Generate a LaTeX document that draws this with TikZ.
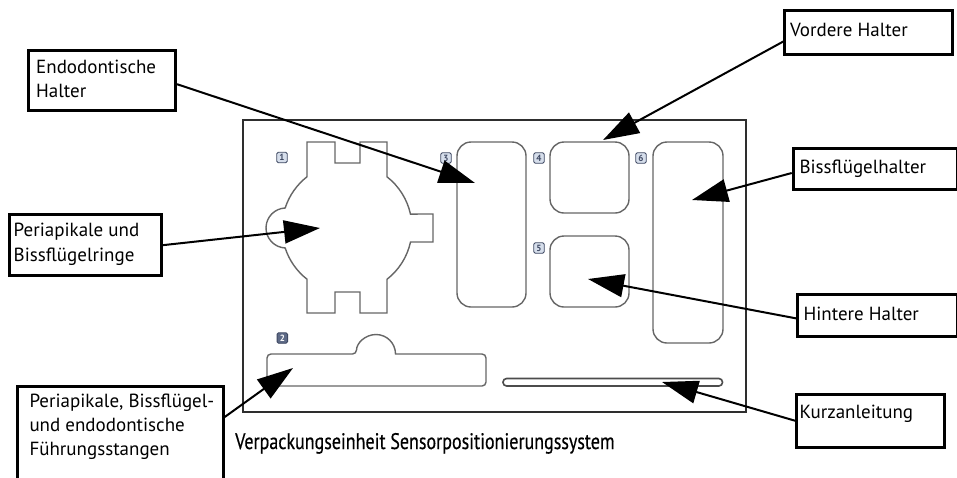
\documentclass[tikz,border=0pt]{standalone}
\usepackage{fontspec}
\setmainfont{PT Sans}
\newfontfamily\capfont[FakeStretch=0.8,FakeBold=0.4]{PT Sans}
\usetikzlibrary{arrows.meta}
\definecolor{shpgray}{HTML}{666666}
\definecolor{framegray}{HTML}{2E2E2E}
\definecolor{badgefill}{HTML}{D6DEEB}
\definecolor{badgedark}{HTML}{5E6A86}
\definecolor{badgeline}{HTML}{3E4862}
\begin{document}
\begin{tikzpicture}[x=1pt,y=-1pt,
  shp/.style={draw=shpgray, line width=1.4pt},
  frame/.style={draw=framegray, line width=2.2pt},
  box/.style={draw=black, line width=3pt, inner sep=0pt, anchor=north west},
  lbl/.style={anchor=base west, inner sep=0pt, font=\fontsize{19}{22}\selectfont},
  arr/.style={line width=2pt, -{Triangle[length=36pt,width=23pt]}},
  badge/.style={draw=badgeline, fill=badgefill, text=badgeline, rounded corners=1.5pt, line width=0.9pt,
    minimum size=10.5pt, inner sep=0pt, font=\fontsize{9}{9}\selectfont\bfseries},
  badgeD/.style={badge, fill=badgedark, text=white}]
\useasboundingbox (0,0) rectangle (957,477);
\clip (0,0) rectangle (957,477);
\fill[white] (0,0) rectangle (957,477);

% tray frame
\draw[frame] (243,120) rectangle (746,412);

% compartment 1: rings
\draw[shp] (307,142) -- (335,142) -- (335,163) -- (360,163) -- (360,142) -- (387,142) -- (387,176.8)
  arc[start angle=-52, end angle=-12.4, radius=65] -- (433,214) -- (433,242) -- (410.5,242)
  arc[start angle=12.4, end angle=52, radius=65] -- (387,313) -- (360,313) -- (360,292) -- (335,292)
  -- (335,313) -- (307,313) -- (307,279.2)
  arc[start angle=128, end angle=162.1, radius=65]
  arc[start angle=92.4, end angle=267.6, radius=20]
  arc[start angle=197.9, end angle=232, radius=65] -- cycle;

% compartments 3,4,5,6
\draw[shp, rounded corners=14pt] (457,142) rectangle (526,307);
\draw[shp, rounded corners=14pt] (550,142) rectangle (629,213);
\draw[shp, rounded corners=14pt] (550,236) rectangle (629,307);
\draw[shp, rounded corners=14pt] (653,142) rectangle (723,343);

% compartment 2: guide rods
\draw[shp, rounded corners=4pt] (395.5,354) -- (486,354) -- (486,386) -- (267,386) -- (267,354) -- (356.5,354)
  [sharp corners] arc[start angle=180, end angle=360, radius=19.5] -- cycle;

% slot for quick guide
\draw[shp, draw=black!70, line width=1.6pt, rounded corners=3.6pt] (503,378.5) rectangle (722.5,386);

% badges
\node[badge] (n1) at (282,157.5) {1};
\node[badgeD] (n2) at (282.3,338) {2};
\node[badge] (n3) at (446,158) {3};
\node[badge] (n4) at (539,158) {4};
\node[badge] (n5) at (539,248) {5};
\node[badge] (n6) at (641,158) {6};

% label boxes
\node[box, minimum width=146.7pt, minimum height=60pt] (bEndo) at (27.3,49.3) {};
\node[lbl] (tEndoA) at (36,73) {Endodontische};
\node[lbl] (tEndoB) at (36,97) {Halter};

\node[box, minimum width=151.7pt, minimum height=60.7pt] (bRing) at (8.3,213.3) {};
\node[lbl] (tRingA) at (13.5,236.7) {Periapikale und};
\node[lbl] (tRingB) at (13.5,261.7) {Bissflügelringe};

\node[box, minimum width=167.4pt, minimum height=44pt] (bVord) at (783.3,9.3) {};
\node[lbl] (tVord) at (790,36.7) {Vordere Halter};

\node[box, minimum width=164pt, minimum height=41.6pt] (bBiss) at (791.7,146.7) {};
\node[lbl] (tBiss) at (799.3,173.3) {Bissflügelhalter};

\node[box, minimum width=160pt, minimum height=42.3pt] (bHint) at (796,292.7) {};
\node[lbl] (tHint) at (803.3,320) {Hintere Halter};

\node[box, minimum width=148.3pt, minimum height=53pt] (bKurz) at (795,392.7) {};
\node[lbl] (tKurz) at (799.3,418.3) {Kurzanleitung};

\node[box, minimum width=205.7pt, minimum height=120pt] (bStang) at (16,385) {};
\node[lbl] (tStangA) at (29.3,407.3) {Periapikale, Bissflügel-};
\node[lbl] (tStangB) at (29.3,431) {und endodontische};
\node[lbl] (tStangC) at (29.3,455) {Führungsstangen};

% caption
\node[anchor=base west, inner sep=0pt, font=\capfont\fontsize{22.5}{26}\selectfont] (cap) at (235,449)
  {Verpackungseinheit Sensorpositionierungssystem};

% arrow targets
\coordinate (pEndo) at (475,183);
\coordinate (pRing) at (320,228);
\coordinate (pVord) at (603,140);
\coordinate (pBiss) at (692,200);
\coordinate (pHint) at (588,279);
\coordinate (pKurz) at (662,382);
\coordinate (pStang) at (293,368);

% arrows
\draw[arr] ([yshift=-3.4pt]bEndo.east) -- (pEndo);
\draw[arr] (bRing.east) -- (pRing);
\draw[arr] ([yshift=-8.7pt]bVord.west) -- (pVord);
\draw[arr] ([yshift=-4pt]bBiss.west) -- (pBiss);
\draw[arr] ([yshift=-3pt]bHint.west) -- (pHint);
\draw[arr] (bKurz.west) -- (pKurz);
\draw[arr] ([yshift=-32pt]bStang.north east) -- (pStang);
\end{tikzpicture}
\end{document}
